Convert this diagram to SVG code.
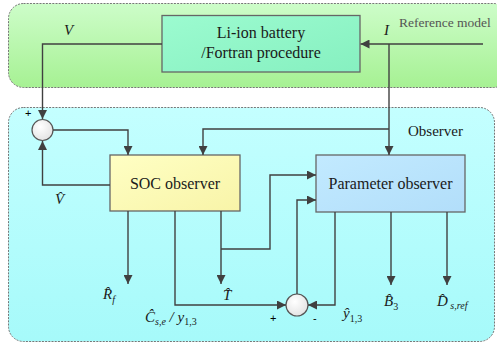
<svg xmlns="http://www.w3.org/2000/svg" width="497" height="345" viewBox="0 0 497 345">
<defs>
<linearGradient id="gGreen" x1="0" y1="0" x2="0" y2="1"><stop offset="0" stop-color="#cdfdc9"/><stop offset="1" stop-color="#a6f193"/></linearGradient>
<linearGradient id="gCyan" x1="0" y1="0" x2="0" y2="1"><stop offset="0" stop-color="#c4ffff"/><stop offset="1" stop-color="#a6fafa"/></linearGradient>
<linearGradient id="gBat" x1="0" y1="0" x2="1" y2="1"><stop offset="0" stop-color="#9cfbd0"/><stop offset="1" stop-color="#86f0c0"/></linearGradient>
<linearGradient id="gSoc" x1="0" y1="0" x2="1" y2="1"><stop offset="0" stop-color="#ffffc4"/><stop offset="1" stop-color="#f8f4a8"/></linearGradient>
<linearGradient id="gPar" x1="0" y1="0" x2="1" y2="1"><stop offset="0" stop-color="#c2eaff"/><stop offset="1" stop-color="#b2defa"/></linearGradient>
<radialGradient id="gCirc" cx="0.4" cy="0.35" r="0.7"><stop offset="0" stop-color="#ffffff"/><stop offset="1" stop-color="#e2e2e2"/></radialGradient>
<marker id="ar" viewBox="0 0 10 10" refX="10" refY="5" markerWidth="9" markerHeight="9" markerUnits="userSpaceOnUse" orient="auto"><path d="M0,0 L10,5 L0,10 z" fill="#404040"/></marker>
</defs>
<style>
.region{stroke:#777;stroke-width:1;stroke-dasharray:2,1.2}
.box{stroke:#666;stroke-width:1.3}
.lbl{font-family:"Liberation Serif","DejaVu Serif","Times New Roman",serif;font-size:16px;fill:#1a1a1a}
.math{font-family:"Liberation Serif","DejaVu Serif","Times New Roman",serif;font-size:15px;font-style:italic;fill:#1a1a1a}
.s{font-size:10px}
.r{font-style:normal}
.sign{font-family:"Liberation Sans",sans-serif;font-size:11px;fill:#000}
.conn{fill:none;stroke:#404040;stroke-width:1.4}
.circ{fill:url(#gCirc);stroke:#555;stroke-width:1.2}
</style>
<g id="reference-model">
<rect class="region" x="8.5" y="3.5" width="500" height="84" rx="15" fill="url(#gGreen)"/>
<text x="399" y="27" style="font-family:'Liberation Serif','DejaVu Serif',serif;font-size:13.5px;fill:#555">Reference model</text>
</g>
<g id="observer">
<rect class="region" x="8.5" y="107.5" width="486" height="234" rx="15" fill="url(#gCyan)"/>
<text class="lbl" x="408" y="136" style="font-size:15px">Observer</text>
</g>
<g id="battery">
<rect class="box" x="162" y="15.5" width="198" height="56.5" fill="url(#gBat)"/>
<text class="lbl" x="261" y="38" text-anchor="middle">Li-ion battery</text>
<text class="lbl" x="261" y="58" text-anchor="middle">/Fortran procedure</text>
</g>
<g id="soc-observer">
<rect class="box" x="110" y="155" width="130" height="56" fill="url(#gSoc)"/>
<text class="lbl" x="175" y="189" text-anchor="middle">SOC observer</text>
</g>
<g id="parameter-observer">
<rect class="box" x="316" y="155" width="149" height="57" fill="url(#gPar)"/>
<text class="lbl" x="390.5" y="189" text-anchor="middle">Parameter observer</text>
</g>
<g id="sum1">
<circle class="circ" cx="42.5" cy="130" r="10.5"/>
<text class="sign" x="25" y="117">+</text>
</g>
<g id="sum2">
<circle class="circ" cx="297" cy="305" r="11"/>
<text class="sign" x="270" y="322">+</text>
<text class="sign" x="313" y="322">-</text>
</g>
<g id="connectors">
<path class="conn" d="M162,44 H42.5 V119" marker-end="url(#ar)"/>
<path class="conn" d="M483,44 H360.5" marker-end="url(#ar)"/>
<path class="conn" d="M389,44 V155" marker-end="url(#ar)"/>
<path class="conn" d="M389,129 H203 V155" marker-end="url(#ar)"/>
<path class="conn" d="M53,130 H128 V155" marker-end="url(#ar)"/>
<path class="conn" d="M110,185 H42.5 V141" marker-end="url(#ar)"/>
<path class="conn" d="M128,211 V284" marker-end="url(#ar)"/>
<path class="conn" d="M221,211 V284" marker-end="url(#ar)"/>
<path class="conn" d="M175,211 V305 H286" marker-end="url(#ar)"/>
<path class="conn" d="M221,249 H270 V175 H316" marker-end="url(#ar)"/>
<path class="conn" d="M297,294 V200 H316" marker-end="url(#ar)"/>
<path class="conn" d="M335,212 V305 H308" marker-end="url(#ar)"/>
<path class="conn" d="M391,212 V285" marker-end="url(#ar)"/>
<path class="conn" d="M447,212 V285" marker-end="url(#ar)"/>
</g>
<g id="labels">
<text class="math" x="64" y="35">V</text>
<text class="math" x="384" y="35">I</text>
<text class="math" x="55" y="204">V̂</text>
<text class="math" x="103" y="299">R̂<tspan class="s" dy="4">f</tspan></text>
<text class="math" x="223" y="300">T̂</text>
<text class="math" x="145" y="322">Ĉ<tspan class="s" dy="3">s,e</tspan><tspan dy="-3"> / y</tspan><tspan class="s r" dy="3">1,3</tspan></text>
<text class="math" x="343" y="318">ŷ<tspan class="s r" dy="4">1,3</tspan></text>
<text class="math" x="384" y="306">B̂<tspan class="s r" dy="4">3</tspan></text>
<text class="math" x="437" y="306">D̂<tspan class="s" dy="3"> s,ref</tspan></text>
</g>
</svg>
